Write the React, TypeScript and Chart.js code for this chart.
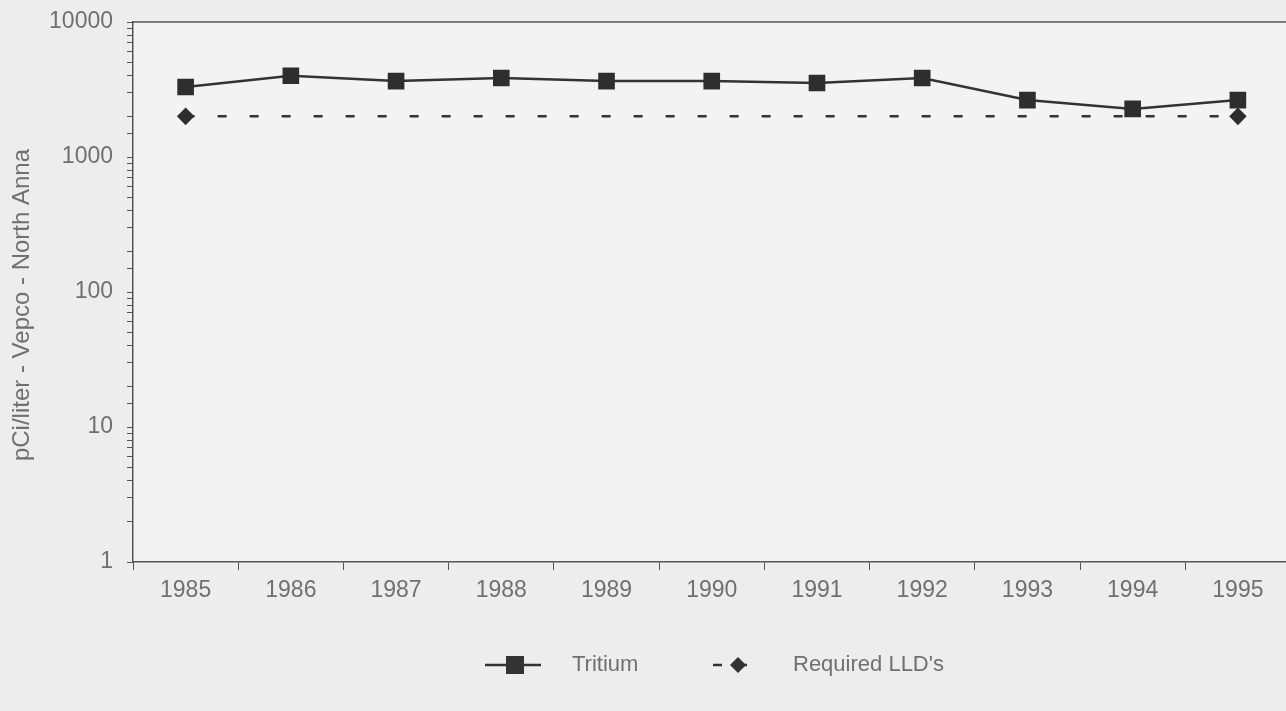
import React, { useEffect, useRef } from "react";
import { Chart, registerables } from "chart.js";

Chart.register(...registerables);

const years = ["1985", "1986", "1987", "1988", "1989", "1990", "1991", "1992", "1993", "1994", "1995"];
const tritium = [3300, 4000, 3650, 3850, 3650, 3650, 3530, 3850, 2640, 2270, 2640];
const requiredLLD = [2000, 2000, 2000, 2000, 2000, 2000, 2000, 2000, 2000, 2000, 2000];
const lldMarkerRadius = [7, 0, 0, 0, 0, 0, 0, 0, 0, 0, 7];
const yTitle = "pCi/liter - Vepco - North Anna";
const seriesNames = ["Tritium", "Required LLD's"];

const FONT = "'Liberation Sans', Arial, sans-serif";
const INK = "#333333";
const TXT = "#707070";

const bgPlugin = {
  id: "bg",
  beforeDraw(chart: any) {
    const { ctx, chartArea: a, width, height } = chart;
    ctx.save();
    ctx.fillStyle = "#ededed";
    ctx.fillRect(0, 0, width, height);
    ctx.fillStyle = "#f3f3f3";
    ctx.fillRect(a.left, a.top, a.right - a.left, a.bottom - a.top);
    ctx.restore();
  },
  afterDraw(chart: any) {
    const { ctx, chartArea: a } = chart;
    ctx.save();
    ctx.strokeStyle = "#555";
    ctx.lineWidth = 1.5;
    ctx.beginPath();
    ctx.moveTo(a.left, a.top);
    ctx.lineTo(a.right, a.top);
    ctx.lineTo(a.right, a.bottom);
    ctx.stroke();

    // y axis title
    ctx.save();
    ctx.translate(22, 305);
    ctx.rotate(-Math.PI / 2);
    ctx.font = `24px ${FONT}`;
    ctx.fillStyle = TXT;
    ctx.textAlign = "center";
    ctx.textBaseline = "middle";
    ctx.fillText(yTitle, 0, 0);
    ctx.restore();

    // legend
    const y = 665;
    ctx.font = `22px ${FONT}`;
    ctx.fillStyle = TXT;
    ctx.textBaseline = "middle";
    ctx.textAlign = "left";
    ctx.strokeStyle = INK;
    ctx.lineWidth = 2.5;
    ctx.setLineDash([]);
    ctx.beginPath();
    ctx.moveTo(485, y);
    ctx.lineTo(541, y);
    ctx.stroke();
    ctx.fillStyle = INK;
    ctx.fillRect(506, y - 9, 18, 18);
    ctx.fillStyle = TXT;
    ctx.fillText(seriesNames[0], 572, y);
    ctx.strokeStyle = INK;
    ctx.beginPath();
    ctx.moveTo(713, y);
    ctx.lineTo(722, y);
    ctx.moveTo(738, y);
    ctx.lineTo(747, y);
    ctx.stroke();
    ctx.fillStyle = INK;
    ctx.beginPath();
    ctx.moveTo(738, y - 8);
    ctx.lineTo(746, y);
    ctx.lineTo(738, y + 8);
    ctx.lineTo(730, y);
    ctx.closePath();
    ctx.fill();
    ctx.fillStyle = TXT;
    ctx.fillText(seriesNames[1], 793, y);
    ctx.restore();
  },
};

export default function App() {
  const ref = useRef<HTMLCanvasElement>(null);
  useEffect(() => {
    if (!ref.current) return;
    const chart = new Chart(ref.current, {
      type: "line",
      data: {
        labels: years,
        datasets: [
          {
            label: seriesNames[0],
            data: tritium,
            borderColor: INK,
            backgroundColor: INK,
            borderWidth: 2.5,
            pointStyle: "rect",
            pointRadius: 10,
            pointBackgroundColor: "#2e2e2e",
            pointBorderColor: "#2e2e2e",
            tension: 0,
          },
          {
            label: seriesNames[1],
            data: requiredLLD,
            borderColor: INK,
            backgroundColor: INK,
            borderWidth: 2.5,
            borderDash: [9, 23],
            pointStyle: "rectRot",
            pointRadius: lldMarkerRadius,
            pointBackgroundColor: "#2e2e2e",
            pointBorderColor: "#2e2e2e",
            tension: 0,
          },
        ],
      },
      options: {
        responsive: false,
        animation: false,
        layout: { padding: { top: 22, right: 5, left: 0, bottom: 0 } },
        plugins: { legend: { display: false }, tooltip: { enabled: false } },
        scales: {
          x: {
            offset: true,
            grid: { offset: true, drawOnChartArea: false, drawTicks: true, tickLength: 8, color: "#555" },
            border: { color: "#555", width: 1.5 },
            ticks: { color: TXT, font: { family: FONT, size: 23 }, padding: 7 },
            afterFit: (s: any) => { s.height = 149; s.paddingLeft = 0; s.paddingRight = 0; },
          },
          y: {
            type: "logarithmic",
            min: 1,
            max: 10000,
            grid: { drawOnChartArea: false, drawTicks: true, tickLength: 6, color: "#555" },
            border: { color: "#555", width: 1.5 },
            ticks: {
              color: TXT,
              font: { family: FONT, size: 23 },
              padding: 14,
              autoSkip: false,
              callback: (v: any) => {
                const l = Math.log10(Number(v));
                return Math.abs(l - Math.round(l)) < 1e-9 ? String(Number(v)) : "";
              },
            },
            afterFit: (s: any) => { s.width = 133; s.paddingTop = 0; s.paddingBottom = 0; },
          },
        },
      },
      plugins: [bgPlugin],
    });
    return () => chart.destroy();
  }, []);
  return (
    <div style={{ position: "fixed", left: 0, top: 0, width: 1286, height: 711, overflow: "hidden", background: "#ededed" }}>
      <canvas ref={ref} width={1303} height={711} style={{ display: "block" }} />
    </div>
  );
}
